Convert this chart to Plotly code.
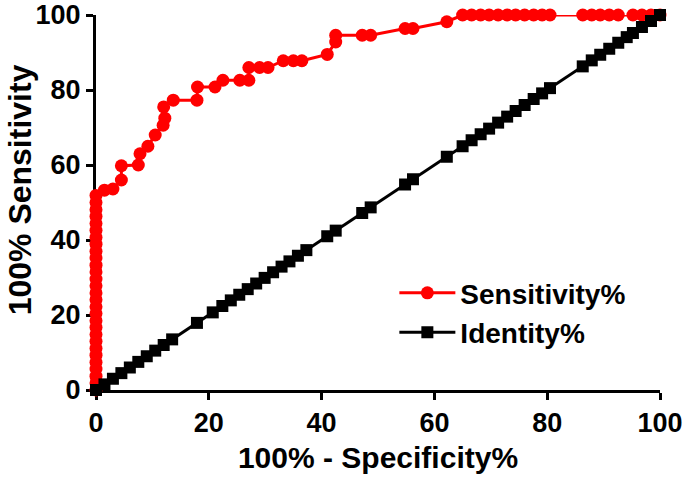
import plotly.graph_objects as go

# ROC curve: 100% - Specificity% (x) vs Sensitivity% (y)
sens_x = [0]*29 + [
    1.5, 3.0, 4.5, 4.5, 7.5, 7.8, 9.2, 10.5, 11.9, 12.2, 12.0, 13.7, 17.9, 18.0,
    21.1, 22.5, 25.5, 27.1, 27.1, 29.0, 30.5, 33.2, 35.0, 36.5, 41.0, 42.5, 42.5,
    47.2, 48.7, 54.8, 56.2, 62.2, 65.0, 66.6, 68.2, 69.7, 71.3, 72.9, 74.4, 76.0,
    77.6, 79.1, 80.5, 86.3, 87.9, 89.4, 91.0, 92.6, 95.2, 96.8, 98.4, 100.0]
sens_y = [0, 1.9, 3.7, 5.6, 7.4, 9.3, 11.1, 13.0, 14.8, 16.7, 18.5, 20.4, 22.2,
    24.1, 25.9, 27.8, 29.6, 31.5, 33.3, 35.2, 37.0, 38.9, 40.7, 42.6, 44.4, 46.3,
    48.1, 50.0, 51.9,
    53.3, 53.6, 56.0, 59.8, 60.0, 63.0, 65.0, 68.0, 70.6, 72.5, 75.5, 77.3, 77.3,
    80.8, 80.8, 82.6, 82.6, 82.6, 86.0, 86.0, 86.0, 87.8, 87.8, 87.8, 89.5, 92.8,
    94.6, 94.6, 94.6, 96.4, 96.4, 98.2, 100, 100, 100, 100, 100, 100, 100, 100,
    100, 100, 100, 100, 100, 100, 100, 100, 100, 100, 100, 100]

# Identity line points
ident_x = [0, 1.5, 3.0, 4.5, 6.0, 7.5, 9.0, 10.5, 12.0, 13.5, 17.9, 20.7, 22.4,
    23.9, 25.4, 26.9, 28.4, 29.9, 31.4, 32.9, 34.3, 35.8, 37.3, 41.0, 42.5, 47.2,
    48.7, 54.8, 56.2, 62.2, 65.0, 66.6, 68.2, 69.7, 71.3, 72.9, 74.4, 76.0, 77.6,
    79.1, 80.5, 86.3, 87.9, 89.4, 91.0, 92.6, 94.1, 95.2, 96.8, 98.4, 100.0]
ident_y = [0, 1.5, 3.0, 4.5, 6.0, 7.5, 9.0, 10.5, 12.0, 13.5, 17.9, 20.7, 22.4,
    23.9, 25.4, 26.9, 28.4, 29.9, 31.4, 32.9, 34.3, 35.8, 37.3, 41.0, 42.5, 47.2,
    48.7, 54.8, 56.2, 62.2, 65.0, 66.6, 68.2, 69.7, 71.3, 72.9, 74.4, 76.0, 77.6,
    79.1, 80.5, 86.3, 87.9, 89.4, 91.0, 92.6, 94.1, 95.2, 96.8, 98.4, 100.0]

tick_vals = [0, 20, 40, 60, 80, 100]
tick_text = ["0", "20", "40", "60", "80", "100"]

FONT = "Liberation Sans, Arial, sans-serif"

fig = go.Figure()
fig.add_trace(go.Scatter(
    x=sens_x, y=sens_y, mode="lines+markers", name="Sensitivity%",
    line=dict(color="#ff0000", width=3),
    marker=dict(symbol="circle", size=13, color="#ff0000"),
    cliponaxis=False))
fig.add_trace(go.Scatter(
    x=ident_x, y=ident_y, mode="lines+markers", name="Identity%",
    line=dict(color="#000000", width=3),
    marker=dict(symbol="square", size=12, color="#000000"),
    cliponaxis=False))

axis_common = dict(
    range=[0, 100], tickvals=tick_vals, ticktext=tick_text, automargin=False,
    showgrid=False, zeroline=False, showline=True, linecolor="black",
    linewidth=3, ticks="outside", ticklen=7, tickwidth=3, tickcolor="black",
    layer="below traces", ticklabeloverflow="allow",
    tickfont=dict(family=FONT, size=27, color="black", weight="bold"),
)
fig.update_xaxes(**axis_common,
    title=dict(text="100% - Specificity%", standoff=10,
               font=dict(family=FONT, size=30, color="black", weight="bold")))
fig.update_yaxes(**axis_common)

# y-axis title placed as rotated text
fig.add_annotation(
    text="100% Sensitivity", textangle=-90, showarrow=False,
    xref="paper", yref="paper", x=-0.1348, y=0.535,
    xanchor="center", yanchor="middle",
    font=dict(family=FONT, size=32, color="black", weight="bold"))

fig.update_layout(
    width=685, height=480,
    margin=dict(l=96, r=25, t=15, b=90),
    paper_bgcolor="white", plot_bgcolor="white",
    legend=dict(x=0.529, y=0.325, xanchor="left", yanchor="top",
                bgcolor="rgba(0,0,0,0)", itemwidth=56, tracegroupgap=0,
                font=dict(family=FONT, size=28, color="black", weight="bold")),
)

fig.write_html("out.html", config={"displayModeBar": False},
               post_script="document.body.style.margin='0px';")
